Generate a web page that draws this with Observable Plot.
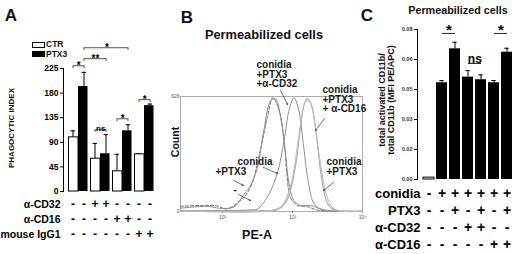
<!DOCTYPE html>
<html><head><meta charset="utf-8">
<script src="https://cdn.jsdelivr.net/npm/d3@7"></script>
<script src="https://cdn.jsdelivr.net/npm/@observablehq/plot@0.6"></script>
<style>
body{margin:0;background:#fff;}
#fig{position:relative;width:520px;height:254px;overflow:hidden;background:#fff;font-family:"Liberation Sans",Arial,sans-serif;}
#fig svg{position:absolute;left:0;top:0;}
#fig text{-webkit-font-smoothing:antialiased;}
.t{position:absolute;font-weight:bold;color:#111;white-space:nowrap;line-height:1;}
.c{transform:translate(-50%,-50%);}
.r{transform:translate(-50%,-50%) rotate(-90deg);text-align:center;}
.box{position:absolute;border:1px solid #000;box-sizing:border-box;}
</style></head><body><div id="fig"></div>
<script>
// ---------- Panel A data ----------
const groupsA = ["none", "α-CD32", "α-CD16", "mouse IgG1"];
const meanCTR = [99, 60, 37, 68];
const errCTR = [12, 28, 31, 1];
const meanPTX3 = [192, 69, 111, 157];
const errPTX3 = [26, 35, 11, 3];
const ticksA = [0, 45, 90, 135, 180, 225];
const rowsA = ["α-CD32", "α-CD16", "mouse IgG1"];
const signCD32A = ["-", "-", "+", "+", "-", "-", "-", "-"];
const signCD16A = ["-", "-", "-", "-", "+", "+", "-", "-"];
const signIgG1A = ["-", "-", "-", "-", "-", "-", "+", "+"];
const sigFromA = ["none|CTR", "none|PTX3", "none|PTX3", "α-CD32|CTR", "α-CD16|CTR", "mouse IgG1|CTR"];
const sigToA = ["none|PTX3", "α-CD32|PTX3", "α-CD16|PTX3", "α-CD32|PTX3", "α-CD16|PTX3", "mouse IgG1|PTX3"];
const sigLevelA = [230, 243, 263, 113, 133, 168];
const sigLabelA = ["*", "**", "*", "ns", "*", "*"];

// ---------- Panel B data (log10 PE-A, count) ----------
const lgDash = [1.40, 1.69, 1.93, 2.05, 2.26, 2.40, 2.54, 2.64, 2.72, 2.81, 2.88, 2.92, 2.97, 3.07, 3.21, 3.35, 3.59, 4.00];
const cntDash = [28, 33, 30, 14, 60, 132, 332, 513, 619, 550, 386, 205, 78, 33, 27, 8, 2, 1];
const lgG1 = [1.40, 1.80, 1.95, 2.16, 2.31, 2.40, 2.50, 2.59, 2.69, 2.76, 2.83, 2.90, 2.95, 3.02, 3.11, 3.26, 3.40, 3.59, 4.00];
const cntG1 = [18, 28, 18, 24, 96, 141, 241, 441, 604, 613, 513, 314, 151, 60, 33, 33, 14, 2, 1];
const lgG2 = [1.40, 2.40, 2.50, 2.64, 2.78, 2.88, 2.95, 3.02, 3.09, 3.16, 3.23, 3.31, 3.45, 3.59, 4.00];
const cntG2 = [4, 9, 14, 78, 205, 386, 550, 619, 550, 350, 151, 42, 5, 2, 1];
const lgG3 = [1.40, 2.60, 2.78, 2.92, 3.04, 3.11, 3.17, 3.22, 3.28, 3.35, 3.42, 3.50, 3.59, 3.73, 4.00];
const cntG3 = [3, 5, 9, 60, 241, 441, 586, 613, 568, 386, 169, 42, 9, 2, 1];
const lgG4 = [1.40, 2.70, 2.85, 2.98, 3.08, 3.15, 3.20, 3.26, 3.33, 3.40, 3.47, 3.55, 3.65, 4.00];
const cntG4 = [3, 6, 30, 150, 380, 560, 610, 590, 450, 260, 110, 30, 5, 1];
const ticksB = [100, 1000, 10000];
const tickLabelsB = ["10²", "10³", "10⁴"];
const ticksBy = [0, 626];
const noteText = ["conidia\n+PTX3\n+α-CD32", "conidia\n+PTX3\n+ α-CD16", "conidia", "+PTX3", "-", "conidia\n+PTX3"];
const noteLg = [2.486, 3.429, 2.214, 1.90, 2.157, 3.486];
const noteCnt = [816, 680, 288, 234, 136, 288];
const arrLg1 = [2.829, 3.457, 2.586, 2.157, 2.229, 3.586];
const arrCnt1 = [659, 506, 240, 169, 93, 158];
const arrLg2 = [2.929, 3.329, 2.786, 2.30, 2.40, 3.443];
const arrCnt2 = [582, 441, 207, 142, 60, 114];

// ---------- Panel C data ----------
const condC = ["1", "2", "3", "4", "5", "6", "7"];
const valC = [0.001, 0.0516, 0.0697, 0.0546, 0.0532, 0.0516, 0.0679];
const errC = [0, 0.0012, 0.0035, 0.0035, 0.0026, 0.0012, 0.0021];
const ticksC = [0, 0.016, 0.032, 0.048, 0.064, 0.08];
const tickLabelsC = ["0.00", "0.02", "0.03", "0.05", "0.06", "0.08"];
const rowsC = ["conidia", "PTX3", "α-CD32", "α-CD16"];
const conidiaC = ["-", "+", "+", "+", "+", "+", "+"];
const ptx3C = ["-", "-", "+", "-", "+", "-", "+"];
const cd32C = ["-", "-", "-", "+", "+", "-", "-"];
const cd16C = ["-", "-", "-", "-", "-", "+", "+"];
const sigFromC = ["2", "4", "6"];
const sigToC = ["3", "5", "7"];
const sigLevelC = [0.0779, 0.0619, 0.0779];
const sigLabelC = ["*", "ns", "*"];

// ---------- build ----------
const W = 520, H = 254;
const FONT = "'Liberation Sans', Arial, sans-serif";
const fig = document.getElementById("fig");
const baseStyle = {background: "transparent", fontFamily: FONT, overflow: "visible", color: "#000"};
function add(p) { fig.appendChild(p); }
function txt(s, x, y, size, cls, extra = "") {
  const d = document.createElement("div");
  d.className = "t " + cls;
  d.style.cssText += `left:${x}px;top:${y}px;font-size:${size}px;${extra}`;
  d.textContent = s;
  fig.appendChild(d);
  return d;
}
function sigTexts(sig, step, sizeStar, sizeNs, dy) {
  return sig.map(d => Plot.text([d], {
    x: "from", y: "lv", text: "lab",
    dx: (d.toIdx - d.fromIdx) * step / 2,
    dy: d.lab === "ns" ? dy : dy + 2,
    fontSize: d.lab === "ns" ? sizeNs : sizeStar,
    fontWeight: "bold",
    fill: "black", stroke: "none", lineAnchor: "bottom"
  }));
}

// ===== Panel A =====
const dataA = groupsA.flatMap((g, i) => [
  {key: g + "|CTR", s: "CTR", v: meanCTR[i], e: errCTR[i]},
  {key: g + "|PTX3", s: "PTX3", v: meanPTX3[i], e: errPTX3[i]}
]);
const keysA = dataA.map(d => d.key);
const rangeA = [64.5, 156.5];
const stepA = (rangeA[1] - rangeA[0]) / keysA.length;
const sigA = sigFromA.map((f, i) => ({from: f, to: sigToA[i], lv: sigLevelA[i], lab: sigLabelA[i],
  fromIdx: keysA.indexOf(f), toIdx: keysA.indexOf(sigToA[i])}));
const xA = () => ({type: "band", domain: keysA, range: rangeA, padding: 0, axis: null});

add(Plot.plot({
  width: W, height: H, marginLeft: 63, marginRight: W - 160, marginTop: 68, marginBottom: H - 191,
  x: xA(), y: {domain: [0, 225], axis: null}, style: baseStyle,
  marks: [
    Plot.frame({anchor: "left", stroke: "#000", strokeWidth: 1}),
    Plot.axisY({ticks: ticksA, tickSize: 3, tickPadding: 2, fontSize: 8.5, fontWeight: "bold", label: null}),
    Plot.ruleX(dataA, {x: "key", y1: "v", y2: d => d.v + d.e, stroke: "#000"}),
    Plot.tickY(dataA, {x: "key", y: d => d.v + d.e, insetLeft: 3.5, insetRight: 3, stroke: "#000"}),
    Plot.barY(dataA.filter(d => d.s === "CTR"), {x: "key", y: "v", fill: "#fff", stroke: "#000", insetLeft: 1.5, insetRight: 0}),
    Plot.barY(dataA.filter(d => d.s === "PTX3"), {x: "key", y: "v", fill: "#000", insetLeft: 0, insetRight: 1.5}),
    Plot.ruleX(sigA, {x: "from", y1: "lv", y2: d => d.lv - 5, stroke: "#555"}),
    Plot.ruleX(sigA, {x: "to", y1: "lv", y2: d => d.lv - 5, stroke: "#555"}),
    Plot.link(sigA, {x1: "from", x2: "to", y1: "lv", y2: "lv", stroke: "#555"}),
    ...sigTexts(sigA, stepA, 10, 8, 1)
  ]
}));

// Panel A sign table
const tableA = keysA.flatMap((k, i) => [
  {key: k, row: rowsA[0], sign: signCD32A[i]},
  {key: k, row: rowsA[1], sign: signCD16A[i]},
  {key: k, row: rowsA[2], sign: signIgG1A[i]}
]);
add(Plot.plot({
  width: W, height: H, marginLeft: 63, marginRight: W - 160, marginTop: 203, marginBottom: H - 234,
  x: xA(), y: {type: "point", domain: rowsA, padding: 0, axis: null}, style: baseStyle,
  marks: [
    Plot.axisY({tickSize: 0, tickPadding: 3, fontSize: 10.5, fontWeight: "bold", label: null}),
    Plot.text(tableA, {x: "key", y: "row", text: "sign", fontSize: 12, fontWeight: "bold", fill: "black"})
  ]
}));

// ===== Panel B =====
const curves = [
  {lg: lgDash, cnt: cntDash, stroke: "#6a6a6a", dash: "3,2", w: 1},
  {lg: lgG1, cnt: cntG1, stroke: "#8c8c8c", dash: null, w: 1},
  {lg: lgG2, cnt: cntG2, stroke: "#909090", dash: null, w: 1},
  {lg: lgG3, cnt: cntG3, stroke: "#a8a8a8", dash: null, w: 1.1},
  {lg: lgG4, cnt: cntG4, stroke: "#bdbdbd", dash: null, w: 1.1}
];
const notes = noteText.map((t, i) => ({t, x: 10 ** noteLg[i], y: noteCnt[i]}));
const arrows = arrLg1.map((l, i) => ({x1: 10 ** l, y1: arrCnt1[i], x2: 10 ** arrLg2[i], y2: arrCnt2[i]}));
add(Plot.plot({
  width: W, height: H, marginLeft: 180, marginRight: W - 362, marginTop: 96, marginBottom: H - 211,
  x: {type: "log", domain: [10 ** 1.4, 10 ** 4], axis: null},
  y: {domain: [0, 626], axis: null}, style: baseStyle,
  marks: [
    Plot.frame({stroke: "#9a9a9a", strokeWidth: 0.8}),
    Plot.axisX({ticks: ticksB, tickFormat: d => tickLabelsB[ticksB.indexOf(d)], tickSize: 2, tickPadding: 2, fontSize: 5, stroke: "#777", fill: "#555", label: null}),
    Plot.axisY({ticks: ticksBy, tickSize: 0, tickPadding: 1, fontSize: 5, fill: "#555", label: null}),
    ...curves.map(c => Plot.line(c.lg.map((l, i) => ({x: 10 ** l, y: c.cnt[i]})),
      {x: "x", y: "y", stroke: c.stroke, strokeWidth: c.w, strokeDasharray: c.dash, curve: "catmull-rom"})),
    Plot.arrow(arrows, {x1: "x1", y1: "y1", x2: "x2", y2: "y2", stroke: "#333", strokeWidth: 0.7, headLength: 3}),
    Plot.text(notes, {x: "x", y: "y", text: "t", textAnchor: "start", lineAnchor: "top", lineHeight: 0.95,
      fontSize: 10, fontWeight: "bold", fill: "#1a1a1a"})
  ]
}));

// ===== Panel C =====
const dataC = condC.map((c, i) => ({c, v: valC[i], e: errC[i]}));
const rangeC = [419, 515];
const stepC = (rangeC[1] - rangeC[0]) / condC.length;
const sigC = sigFromC.map((f, i) => ({from: f, to: sigToC[i], lv: sigLevelC[i], lab: sigLabelC[i],
  fromIdx: condC.indexOf(f), toIdx: condC.indexOf(sigToC[i])}));
const xC = () => ({type: "band", domain: condC, range: rangeC, padding: 0, axis: null});
add(Plot.plot({
  width: W, height: H, marginLeft: 417, marginRight: 0, marginTop: 29, marginBottom: H - 179,
  x: xC(), y: {domain: [0, 0.08], axis: null}, style: baseStyle,
  marks: [
    Plot.frame({anchor: "left", stroke: "#000", strokeWidth: 1}),
    Plot.axisY({ticks: ticksC, tickFormat: d => tickLabelsC[ticksC.indexOf(d)], tickSize: 3, tickPadding: 2, fontSize: 5.5, fontWeight: "bold", fill: "#333", label: null}),
    Plot.ruleX(dataC.filter(d => d.e > 0), {x: "c", y1: "v", y2: d => d.v + d.e, stroke: "#000"}),
    Plot.tickY(dataC.filter(d => d.e > 0), {x: "c", y: d => d.v + d.e, insetLeft: 4.3, insetRight: 4.3, stroke: "#000"}),
    Plot.barY(dataC.slice(0, 1), {x: "c", y: "v", fill: "#fff", stroke: "#000", insetLeft: 1, insetRight: 1}),
    Plot.barY(dataC.slice(1), {x: "c", y: "v", fill: "#000", insetLeft: 1, insetRight: 1}),
    Plot.link(sigC, {x1: "from", x2: "to", y1: "lv", y2: "lv", stroke: "#222", strokeWidth: 1}),
    ...sigTexts(sigC, stepC, 15, 12, 0)
  ]
}));

// Panel C sign table
const tableC = condC.flatMap((c, i) => [
  {c, row: rowsC[0], sign: conidiaC[i]},
  {c, row: rowsC[1], sign: ptx3C[i]},
  {c, row: rowsC[2], sign: cd32C[i]},
  {c, row: rowsC[3], sign: cd16C[i]}
]);
add(Plot.plot({
  width: W, height: H, marginLeft: 423, marginRight: 0, marginTop: 192, marginBottom: H - 245,
  x: xC(), y: {type: "point", domain: rowsC, padding: 0, axis: null}, style: baseStyle,
  marks: [
    Plot.axisY({tickSize: 0, tickPadding: 3, fontSize: 13, fontWeight: "bold", label: null}),
    Plot.text(tableC, {x: "c", y: "row", text: "sign", fontSize: 14, fontWeight: "bold", fill: "black"})
  ]
}));

// ===== HTML texts =====
txt("A", 11, 15, 17, "c");
txt("B", 187, 17, 17, "c");
txt("C", 367, 15, 17, "c");
txt("Permeabilized cells", 264, 35, 12.8, "c");
txt("Permeabilized cells", 458, 10, 10.8, "c");
txt("PE-A", 257, 235, 12.5, "c");
txt("Count", 175, 142, 10.5, "r");
txt("PHAGOCYTIC INDEX", 11.5, 128, 8, "r");
txt("", 387, 100, 9, "r").innerHTML = "total activated CD11b/<br>total CD11b (MFI PE/APC)";
// legend A
const leg = [["CTR", "#fff", 44.5], ["PTX3", "#000", 54]];
leg.forEach(([name, fill, cy]) => {
  const b = document.createElement("div");
  b.className = "box";
  b.style.cssText += `left:32px;top:${cy - 3}px;width:13px;height:6px;background:${fill};`;
  fig.appendChild(b);
  txt(name, 46, cy - 4.5, 8.5, "");
});
</script>
</body></html>
